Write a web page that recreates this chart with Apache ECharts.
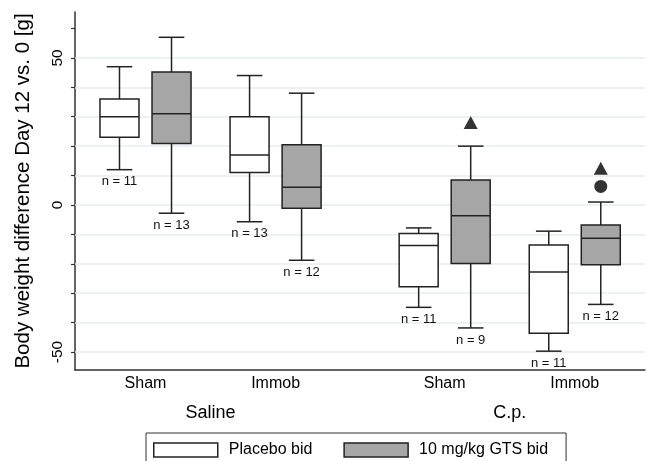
<!DOCTYPE html>
<html>
	<head>
		<meta charset="utf-8">
		<title>Body weight difference</title>
		<script src="https://cdn.jsdelivr.net/npm/echarts@6/dist/echarts.min.js"></script>
		<style>
			html, body { margin: 0; padding: 0; background: #fff; }
		</style>
	</head>
	<body>
		<div id="BoxMain" style="width:647px;height:461px;"></div>
		<script>
			// positions of the boxes on the x axis (units)
			var placeboPos = [0, 5, 11.5, 16.5];
			var gtsPos = [2, 7, 13.5, 18.5];
			// [min, Q1, median, Q3, max]
			var placeboStats = [
				[12, 23, 30, 36, 47],
				[-5.7, 11, 17, 30, 44],
				[-34.8, -27.8, -13.8, -9.7, -7.8],
				[-49.7, -43.6, -22.8, -13.6, -8.9]
			];
			var gtsStats = [
				[-2.8, 20.9, 31, 45.2, 57],
				[-18.8, -1.1, 6, 20.5, 38],
				[-41.8, -19.9, -3.7, 8.5, 20],
				[-33.8, -20.3, -11.3, -6.8, 1]
			];
			var placeboN = [11, 13, 11, 11];
			var gtsN = [13, 12, 9, 12];
			// outliers
			var triangles = [[13.5, 28], [18.5, 12.5]];
			var circles = [[18.5, 6.3]];

			var catPos = [1, 6, 12.5, 17.5];
			var catLabels = ['Sham', 'Immob', 'Sham', 'Immob'];
			var groupPos = [3.5, 15];
			var groupLabels = ['Saline', 'C.p.'];
			var yTicks = [-50, -40, -30, -20, -10, 0, 10, 20, 30, 40, 50, 60];
			var yLabels = [-50, 0, 50];
			var gridVals = [-50, -40, -30, -20, -10, 0, 10, 20, 30, 40, 50];

			var FONT = 'Liberation Sans, Arial, Helvetica, sans-serif';

			function rows(pos, stats, n) {
				return pos.map(function(p, i) {
					return [p].concat(stats[i]).concat([n[i]]);
				});
			}

			function pick(list, labels, v) {
				for (var i = 0; i < list.length; i++) {
					if (Math.abs(list[i] - v) < 0.01) return labels[i];
				}
				return '';
			}

			function renderBox(params, api) {
				var x = api.value(0);
				var lo = api.coord([x, api.value(1)]);
				var q1 = api.coord([x, api.value(2)]);
				var md = api.coord([x, api.value(3)]);
				var q3 = api.coord([x, api.value(4)]);
				var hi = api.coord([x, api.value(5)]);
				var cx = lo[0];
				var hb = 19.5, hc = 12.8;
				var ln = { stroke: '#222', lineWidth: 1.5 };
				return {
					type: 'group',
					children: [
						{ type: 'line', shape: { x1: cx, y1: hi[1], x2: cx, y2: q3[1] }, style: ln },
						{ type: 'line', shape: { x1: cx, y1: q1[1], x2: cx, y2: lo[1] }, style: ln },
						{ type: 'line', shape: { x1: cx - hc, y1: hi[1], x2: cx + hc, y2: hi[1] }, style: ln },
						{ type: 'line', shape: { x1: cx - hc, y1: lo[1], x2: cx + hc, y2: lo[1] }, style: ln },
						{
							type: 'rect',
							shape: { x: cx - hb, y: q3[1], width: hb * 2, height: q1[1] - q3[1] },
							style: { fill: api.visual('color'), stroke: '#222', lineWidth: 1.5 }
						},
						{ type: 'line', shape: { x1: cx - hb, y1: md[1], x2: cx + hb, y2: md[1] }, style: ln },
						{
							type: 'text',
							x: cx, y: lo[1] + 12,
							style: {
								text: 'n = ' + api.value(6),
								align: 'center', verticalAlign: 'middle',
								fontSize: 13, fontFamily: FONT, fill: '#111'
							}
						}
					]
				};
			}

			var BoxChart = echarts.init(document.getElementById('BoxMain'));
			var BoxOption = {
				animation: false,
				backgroundColor: '#fff',
				textStyle: { fontFamily: FONT },
				grid: { left: 75, right: 2, top: 12, bottom: 91 },
				legend: {
					left: 146,
					top: 433,
					orient: 'horizontal',
					backgroundColor: '#fff',
					borderColor: '#333',
					borderWidth: 1,
					borderRadius: 0,
					padding: [9, 18, 10, 7],
					itemWidth: 64,
					itemHeight: 14,
					itemGap: 31,
					selectedMode: false,
					textStyle: { fontSize: 16, color: '#000', fontFamily: FONT, padding: [0, 0, 0, 6] },
					data: [
						{ name: 'Placebo bid', icon: 'rect', itemStyle: { color: '#fff', borderColor: '#222', borderWidth: 1.5 } },
						{ name: '10 mg/kg GTS bid', icon: 'rect', itemStyle: { color: '#a6a6a6', borderColor: '#222', borderWidth: 1.5 } }
					]
				},
				xAxis: [{
					type: 'value',
					min: -1.71,
					max: 20.2,
					position: 'bottom',
					axisLine: { show: true, onZero: false, lineStyle: { color: '#333', width: 1.5 } },
					axisTick: { show: false },
					splitLine: { show: false },
					axisLabel: {
						customValues: catPos,
						formatter: function(v) { return pick(catPos, catLabels, v); },
						margin: 6,
						fontSize: 16,
						color: '#000',
						fontFamily: FONT
					}
				}, {
					type: 'value',
					min: -1.71,
					max: 20.2,
					position: 'bottom',
					offset: 0,
					axisLine: { show: false },
					axisTick: { show: false },
					splitLine: { show: false },
					axisLabel: {
						customValues: groupPos,
						formatter: function(v) { return pick(groupPos, groupLabels, v); },
						margin: 34,
						fontSize: 18,
						color: '#000',
						fontFamily: FONT
					}
				}],
				yAxis: {
					type: 'value',
					min: -56.1,
					max: 65.6,
					name: 'Body weight difference Day 12 vs. 0 [g]',
					nameLocation: 'middle',
					nameRotate: 90,
					nameGap: 41,
					nameTextStyle: { fontSize: 20.5, color: '#000', fontFamily: FONT },
					axisLine: { show: true, onZero: false, lineStyle: { color: '#333', width: 1.5 } },
					axisTick: { show: true, inside: false, length: 4, customValues: yTicks, lineStyle: { color: '#333', width: 1.2 } },
					splitLine: { show: false },
					axisLabel: {
						customValues: yLabels,
						rotate: 90,
						margin: 9,
						fontSize: 15.5,
						color: '#000',
						fontFamily: FONT
					}
				},
				series: [{
					name: 'Placebo bid',
					type: 'custom',
					renderItem: renderBox,
					itemStyle: { color: '#fff' },
					encode: { x: 0, y: [1, 2, 3, 4, 5] },
					data: rows(placeboPos, placeboStats, placeboN),
					z: 3,
					markLine: {
						silent: true,
						symbol: 'none',
						label: { show: false },
						lineStyle: { color: '#e8edef', width: 1.5, type: 'solid' },
						data: gridVals.map(function(v) { return { yAxis: v }; }),
						z: 1
					}
				}, {
					name: '10 mg/kg GTS bid',
					type: 'custom',
					renderItem: renderBox,
					itemStyle: { color: '#a6a6a6' },
					encode: { x: 0, y: [1, 2, 3, 4, 5] },
					data: rows(gtsPos, gtsStats, gtsN),
					z: 3
				}, {
					name: 'triangle',
					type: 'scatter',
					symbol: 'triangle',
					symbolSize: [14, 13],
					itemStyle: { color: '#000' },
					data: triangles,
					z: 4
				}, {
					name: 'circle',
					type: 'scatter',
					symbol: 'circle',
					symbolSize: 13,
					itemStyle: { color: '#000' },
					data: circles,
					z: 4
				}]
			};

			BoxChart.setOption(BoxOption);
		</script>
	</body>
</html>
